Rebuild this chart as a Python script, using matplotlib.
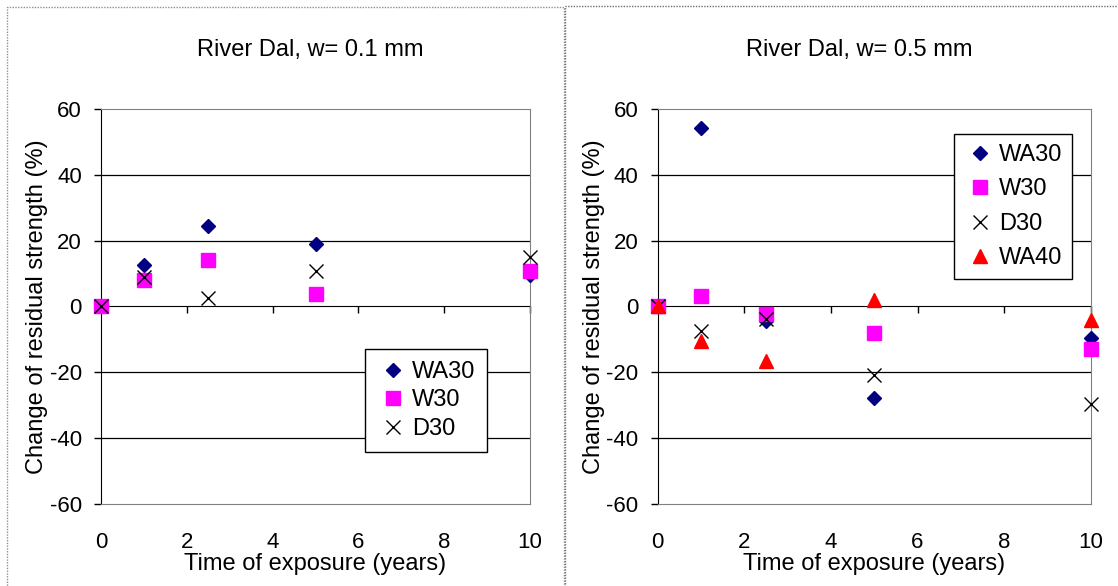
import matplotlib
matplotlib.use('Agg')
import matplotlib.pyplot as plt
from matplotlib.patches import Rectangle

plt.rcParams['font.family'] = ['Liberation Sans', 'DejaVu Sans']
plt.rcParams['axes.unicode_minus'] = False

# exposure times (years)
years = [0, 1, 2.5, 5, 10]

# w = 0.1 mm
wa30_01 = [0, 12.5, 24.6, 19.0, 9.7]
w30_01 = [0, 8.1, 14.0, 3.8, 10.9]
d30_01 = [0, 8.9, 2.7, 10.9, 14.9]

# w = 0.5 mm
wa30_05 = [0, 54.4, -4.5, -27.8, -9.5]
w30_05 = [0, 3.3, -2.2, -8.0, -12.8]
d30_05 = [0, -7.5, -3.9, -20.9, -29.8]
wa40_05 = [0, -10.4, -16.7, 1.9, -4.1]

titles = ['River Dal, w= 0.1 mm', 'River Dal, w= 0.5 mm']
xticks = [0, 2, 4, 6, 8, 10]
yticks = [-60, -40, -20, 0, 20, 40, 60]

styles = {
    'WA30': dict(marker='D', color='#000080', ms=7.6),
    'W30': dict(marker='s', color='#FF00FF', ms=10.5),
    'D30': dict(marker='x', color='black', ms=10.5, mew=1.0),
    'WA40': dict(marker='^', color='#FF0000', ms=10.5),
}

fig = plt.figure(figsize=(11.18, 5.86), dpi=100)
W, H = 1118, 586

# dotted chart-area borders
fig.patches.append(Rectangle((7 / W, -0.05), 557 / W, 1.05 - 7 / H, transform=fig.transFigure,
                             fill=False, ec='#909090', lw=1, ls=(0, (1, 1))))
fig.patches.append(Rectangle((565 / W, -0.05), 0.6, 1.05 - 5.7 / H, transform=fig.transFigure,
                             fill=False, ec='#707070', lw=1, ls=(0, (1, 1))))

ax1 = fig.add_axes([101 / W, 82.4 / H, 429 / W, 394.3 / H])
ax2 = fig.add_axes([657.7 / W, 82.4 / H, 433 / W, 394.3 / H])


def setup(ax):
    ax.set_xlim(0, 10)
    ax.set_ylim(-60, 60)
    ax.set_yticks(yticks)
    ax.set_xticks(xticks)
    ax.tick_params(axis='y', direction='out', length=4.8, width=1, pad=9, labelsize=16)
    ax.tick_params(axis='x', length=0, pad=20.5, labelsize=16)
    for y in [-40, -20, 20, 40]:
        ax.axhline(y, color='black', lw=0.9, zorder=1)
    for s in ['top', 'right', 'bottom']:
        ax.spines[s].set_color('#808080')
    ax.spines['left'].set_color('black')
    # x axis crossing at zero
    sec = ax.secondary_xaxis(0.5)
    sec.set_alignment('bottom')
    sec.set_xticks(xticks)
    sec.tick_params(axis='x', direction='out', length=5, width=1, labelbottom=False)
    sec.spines['bottom'].set_color('black')
    ax.set_xlabel('Time of exposure (years)', fontsize=17, labelpad=0)
    ax.set_ylabel('Change of residual strength (%)', fontsize=17, labelpad=1)


setup(ax1)
setup(ax2)

for name, vals in [('WA30', wa30_01), ('W30', w30_01), ('D30', d30_01)]:
    ax1.plot(years, vals, ls='none', label=name, clip_on=False, zorder=3, **styles[name])
for name, vals in [('WA30', wa30_05), ('W30', w30_05), ('D30', d30_05), ('WA40', wa40_05)]:
    ax2.plot(years, vals, ls='none', label=name, clip_on=False, zorder=3, **styles[name])

leg1 = ax1.legend(loc='center', bbox_to_anchor=(426 / W, 1 - 400.4 / H), bbox_transform=fig.transFigure,
                  fontsize=17, fancybox=False, framealpha=1, edgecolor='black', numpoints=1,
                  borderpad=0.5, handlelength=1.4, handletextpad=0.1, labelspacing=0.27)
leg2 = ax2.legend(loc='center', bbox_to_anchor=(1013.3 / W, 1 - 206.7 / H), bbox_transform=fig.transFigure,
                  fontsize=17, fancybox=False, framealpha=1, edgecolor='black', numpoints=1,
                  borderpad=0.4, handlelength=1.4, handletextpad=0.1, labelspacing=0.53)
for leg in (leg1, leg2):
    leg.get_frame().set_linewidth(1)
    leg.set_zorder(5)

fig.text(310 / W, 1 - 55.7 / H, titles[0], ha='center', va='baseline', fontsize=17)
fig.text(859 / W, 1 - 55.7 / H, titles[1], ha='center', va='baseline', fontsize=17)

fig.savefig('out.png', dpi=100, facecolor='white')
